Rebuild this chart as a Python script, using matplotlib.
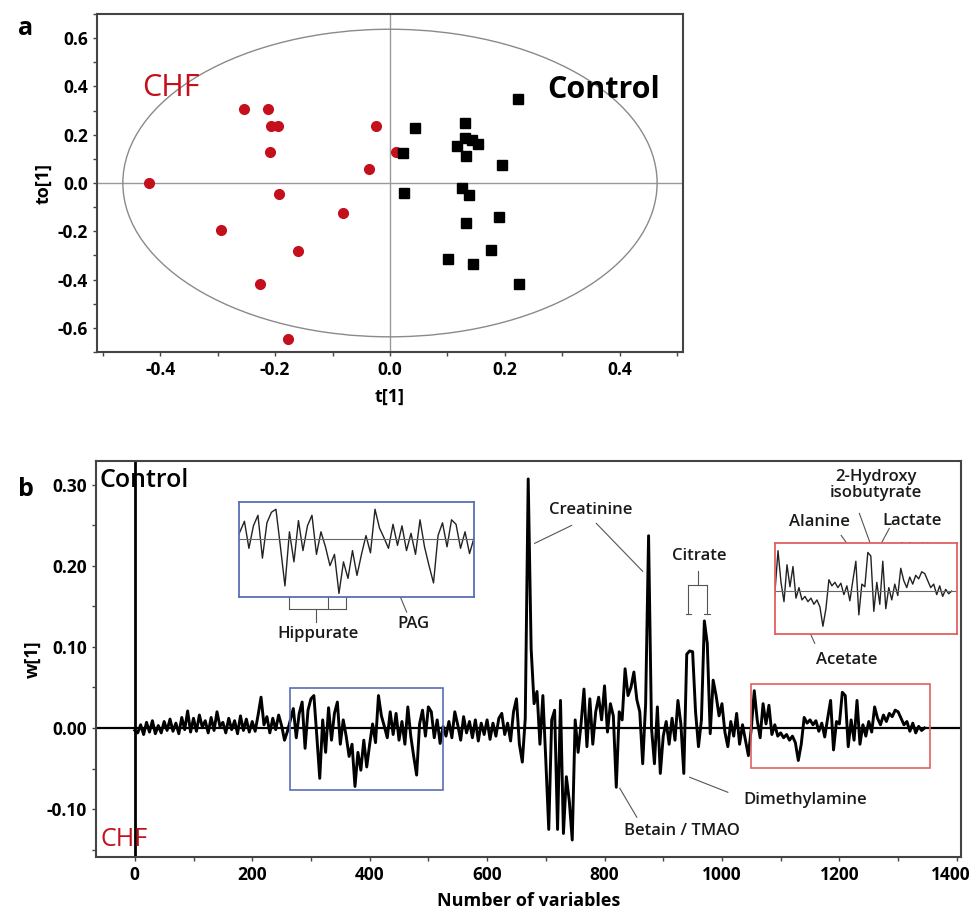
import numpy as np
import matplotlib
matplotlib.use("Agg")
import matplotlib.pyplot as plt
import matplotlib.transforms as mtransforms
from matplotlib.patches import Ellipse, Rectangle
from matplotlib.ticker import MultipleLocator, FormatStrFormatter

plt.rcParams['font.family'] = ['Open Sans', 'DejaVu Sans']

# -----------------------------------------------------------
# Panel a data: OPLS-DA scores
# -----------------------------------------------------------
chf_t = [-0.255, -0.213, -0.208, -0.195, -0.209, -0.024, 0.011, -0.037,
         -0.420, -0.194, -0.081, -0.294, -0.161, -0.226, -0.177]
chf_to = [0.305, 0.305, 0.235, 0.238, 0.129, 0.235, 0.129, 0.058,
          0.002, -0.047, -0.123, -0.195, -0.282, -0.418, -0.646]

ctrl_t = [0.043, 0.130, 0.130, 0.142, 0.153, 0.116, 0.132, 0.022, 0.195, 0.223,
          0.024, 0.125, 0.138, 0.132, 0.190, 0.176, 0.101, 0.145, 0.224]
ctrl_to = [0.230, 0.249, 0.188, 0.180, 0.163, 0.154, 0.111, 0.123, 0.076, 0.347,
           -0.041, -0.019, -0.051, -0.164, -0.141, -0.279, -0.315, -0.337, -0.420]

ellipse_half_t = 0.465
ellipse_half_to = 0.637

# -----------------------------------------------------------
# Panel b data: loading w[1], one value every 5 variables (0..1345)
# -----------------------------------------------------------
var_step = 5
w1 = [
    # 0-95
    -0.003, -0.006, 0.004, -0.008, 0.007, -0.005, 0.009, -0.007, 0.003, -0.006,
    0.008, -0.003, 0.011, -0.004, 0.006, -0.007, 0.013, -0.002, 0.021, -0.005,
    # 100-195
    0.012, -0.004, 0.016, 0.001, 0.009, -0.006, 0.013, -0.003, 0.020, 0.002,
    0.007, -0.006, 0.012, -0.002, 0.009, -0.007, 0.015, -0.003, 0.011, -0.005,
    # 200-295
    0.008, -0.004, 0.016, 0.038, 0.004, 0.014, -0.006, 0.012, -0.002, 0.016,
    0.003, -0.015, -0.004, 0.010, 0.024, -0.012, 0.018, 0.032, -0.025, 0.022,
    # 300-395
    0.036, 0.040, -0.010, -0.062, 0.010, -0.030, 0.025, -0.015, 0.018, 0.032,
    -0.020, 0.010, -0.010, -0.035, -0.020, -0.072, -0.030, -0.052, -0.015, -0.048,
    # 400-495
    -0.020, 0.005, -0.018, 0.040, 0.015, 0.002, -0.012, 0.020, -0.008, 0.018,
    -0.015, 0.008, -0.020, 0.026, -0.010, -0.035, -0.058, 0.005, 0.022, -0.010,
    # 500-595
    0.026, 0.020, -0.012, 0.010, -0.019, 0.002, -0.010, 0.008, -0.012, 0.020,
    0.004, -0.015, 0.014, -0.006, 0.008, -0.012, 0.010, -0.016, 0.006, -0.008,
    # 600-695
    0.010, -0.014, 0.006, -0.010, 0.012, 0.018, -0.008, 0.006, -0.016, 0.020,
    0.036, -0.020, -0.042, 0.012, 0.307, 0.098, 0.030, 0.045, -0.020, 0.040,
    # 700-795
    -0.040, -0.125, 0.010, 0.022, -0.125, 0.034, -0.130, -0.060, -0.090, -0.138,
    0.010, -0.030, 0.005, 0.048, -0.023, 0.036, -0.020, 0.020, 0.038, 0.010,
    # 800-895
    0.052, -0.005, 0.030, 0.015, -0.073, 0.020, 0.010, 0.073, 0.040, 0.050,
    0.069, 0.035, 0.020, -0.044, 0.030, 0.237, 0.000, -0.044, 0.026, -0.056,
    # 900-995
    -0.010, 0.008, -0.020, 0.012, -0.015, 0.034, 0.005, -0.056, 0.091, 0.095,
    0.094, 0.020, -0.023, 0.010, 0.132, 0.104, -0.007, 0.059, 0.040, 0.015,
    # 1000-1095
    0.030, -0.005, -0.023, 0.008, -0.010, 0.018, -0.020, 0.004, -0.015, -0.034,
    0.000, 0.046, 0.010, -0.012, 0.030, 0.005, 0.028, -0.008, 0.004, -0.010,
    # 1100-1195
    -0.006, -0.012, -0.008, -0.015, -0.010, -0.018, -0.040, -0.020, 0.013, 0.006,
    0.010, 0.004, 0.009, -0.004, 0.006, -0.011, 0.012, 0.034, -0.027, 0.008,
    # 1200-1295
    0.005, 0.044, 0.040, -0.023, 0.010, -0.015, 0.034, -0.020, 0.004, -0.010,
    0.008, -0.005, 0.026, 0.012, 0.004, 0.016, 0.008, 0.018, 0.014, 0.022,
    # 1300-1345
    0.020, 0.012, 0.004, 0.008, -0.004, 0.006, -0.006, 0.002, -0.003, 0.000,
]
variables = np.arange(len(w1)) * var_step

blue_box = (264, 525, -0.0767, 0.0497)    # x0, x1, y0, y1
red_box = (1050, 1354, -0.0488, 0.0547)

RED = '#c4101c'
BLUE_BOX = '#5a6db8'
RED_BOX = '#e06060'

fig = plt.figure(figsize=(9.74, 9.17), dpi=100)

# -----------------------------------------------------------
# Panel a
# -----------------------------------------------------------
ax1 = fig.add_axes([0.0996, 0.6161, 0.6016, 0.3686])
ax1.axhline(0, color='#9a9a9a', lw=1, zorder=1)
ax1.axvline(0, color='#9a9a9a', lw=1, zorder=1)
ax1.add_patch(Ellipse((0, 0), 2 * ellipse_half_t, 2 * ellipse_half_to,
                      fill=False, edgecolor='#8a8a8a', lw=1, zorder=1))
ax1.plot(chf_t, chf_to, 'o', color=RED, ms=7, mec=RED, zorder=3)
ax1.plot(ctrl_t, ctrl_to, 's', color='black', ms=6.5, zorder=3)
ax1.set_xlim(-0.51, 0.51)
ax1.set_ylim(-0.70, 0.70)
ax1.xaxis.set_major_locator(MultipleLocator(0.2))
ax1.xaxis.set_minor_locator(MultipleLocator(0.1))
ax1.yaxis.set_major_locator(MultipleLocator(0.2))
ax1.yaxis.set_minor_locator(MultipleLocator(0.1))
ax1.xaxis.set_major_formatter(FormatStrFormatter('%.1f'))
ax1.yaxis.set_major_formatter(FormatStrFormatter('%.1f'))
ax1.tick_params(which='both', direction='out', length=3, width=1, color='#444',
                labelsize=12.5)
for lab in ax1.get_xticklabels() + ax1.get_yticklabels():
    lab.set_fontweight('bold')
for sp in ax1.spines.values():
    sp.set_color('#444')
    sp.set_linewidth(1.5)
ax1.set_xlabel('t[1]', fontsize=13, fontweight='bold', labelpad=6)
ax1.set_ylabel('to[1]', fontsize=13, fontweight='bold', labelpad=4)
ax1.text(-0.381, 0.393, 'CHF', color=RED, fontsize=22, ha='center', va='center')
ax1.text(0.372, 0.385, 'Control', color='black', fontsize=22, ha='center',
         va='center', fontweight='bold')
fig.text(0.018, 0.969, 'a', fontsize=18, fontweight='bold', va='center')

# -----------------------------------------------------------
# Panel b
# -----------------------------------------------------------
ax2 = fig.add_axes([0.0986, 0.0654, 0.888, 0.4318])
ax2.plot(variables, w1, color='black', lw=2.1, zorder=3)
ax2.axhline(0, color='black', lw=1.6, zorder=2)
ax2.axvline(0, color='black', lw=2, zorder=2)
ax2.set_xlim(-66, 1407)
ax2.set_ylim(-0.159, 0.329)
ax2.xaxis.set_major_locator(MultipleLocator(200))
ax2.xaxis.set_minor_locator(MultipleLocator(100))
ax2.yaxis.set_major_locator(MultipleLocator(0.1))
ax2.yaxis.set_minor_locator(MultipleLocator(0.05))
ax2.yaxis.set_major_formatter(FormatStrFormatter('%.2f'))
ax2.tick_params(which='both', direction='out', length=3, width=1, color='#444',
                labelsize=12.5)
for lab in ax2.get_xticklabels() + ax2.get_yticklabels():
    lab.set_fontweight('bold')
# keep the last x label inside the figure
fig.canvas.draw()
xlabs = [l for l in ax2.get_xticklabels() if l.get_text() == '1400']
for l in xlabs:
    l.set_transform(l.get_transform() +
                    mtransforms.ScaledTranslation(-6 / 100, 0, fig.dpi_scale_trans))
for sp in ax2.spines.values():
    sp.set_color('#444')
    sp.set_linewidth(1.5)
ax2.set_xlabel('Number of variables', fontsize=13, fontweight='bold', labelpad=6)
ax2.set_ylabel('w[1]', fontsize=13, fontweight='bold', labelpad=4)
ax2.text(-60, 0.305, 'Control', fontsize=18, ha='left', va='center',
         fontweight='semibold', zorder=5)
ax2.text(-58, -0.138, 'CHF', fontsize=18, ha='left', va='center', color=RED,
         zorder=5)
fig.text(0.018, 0.466, 'b', fontsize=18, fontweight='bold', va='center')

# boxes marking the zoomed regions
for (x0, x1, y0, y1), col in ((blue_box, BLUE_BOX), (red_box, RED_BOX)):
    ax2.add_patch(Rectangle((x0, y0), x1 - x0, y1 - y0, fill=False,
                            edgecolor=col, lw=1.2, zorder=4))

# annotations
ann = dict(fontsize=12, fontweight='semibold', color='#1a1a1a', ha='center',
           va='center')
lc = dict(color='#555555', lw=0.8)

ax2.text(776, 0.269, 'Creatinine', **ann)
ax2.plot([681, 744], [0.2276, 0.2497], **lc)
ax2.plot([786, 865], [0.2522, 0.1931], **lc)

ax2.text(962, 0.2116, 'Citrate', **ann)
ax2.plot([960, 960], [0.194, 0.176], **lc)
ax2.plot([943, 975], [0.176, 0.176], **lc)
ax2.plot([943, 943], [0.176, 0.140], **lc)
ax2.plot([975, 975], [0.176, 0.140], **lc)
ax2.plot([938, 948], [0.140, 0.140], **lc)
ax2.plot([970, 980], [0.140, 0.140], **lc)

ax2.text(1262, 0.300, '2-Hydroxy\nisobutyrate', linespacing=1.0, **ann)
ax2.plot([1234, 1255], [0.2645, 0.2226], **lc)
ax2.text(1166, 0.2534, 'Alanine', **ann)
ax2.plot([1203, 1231], [0.2374, 0.209], **lc)
ax2.text(1323, 0.2547, 'Lactate', **ann)
ax2.plot([1285, 1263], [0.246, 0.2165], **lc)
ax2.text(1347, 0.220, 'Valine', zorder=6, **ann)
ax2.text(1212, 0.0834, 'Acetate', **ann)
ax2.plot([1135, 1158], [0.1413, 0.1044], **lc)

ax2.text(1141, -0.089, 'Dimethylamine', **ann)
ax2.plot([945, 1010], [-0.0607, -0.0792], **lc)
ax2.text(931, -0.127, 'Betain / TMAO', **ann)
ax2.plot([826, 855], [-0.0743, -0.110], **lc)

ax2.text(312, 0.1154, 'Hippurate', **ann)
for xv, yv in ((262.7, 0.1737), (329.1, 0.1976), (360.4, 0.1663)):
    ax2.plot([xv, xv], [yv, 0.1462], **lc)
    ax2.plot([xv - 5, xv + 5], [yv, yv], **lc)
ax2.plot([262.7, 360.4], [0.1462, 0.1462], **lc)
ax2.plot([308, 308], [0.1462, 0.1306], **lc)
ax2.text(474, 0.1278, 'PAG', **ann)
ax2.plot([428.5, 463], [0.2029, 0.1429], **lc)

# insets: zoomed views of the boxed regions
insets = ((blue_box, BLUE_BOX, [0.2454, 0.3490, 0.2413, 0.1036]),
          (red_box, RED_BOX, [0.7957, 0.3086, 0.1869, 0.0992]))
for (x0, x1, y0, y1), col, rect in insets:
    ins = fig.add_axes(rect)
    ins.plot(variables, w1, color='#222222', lw=1.0)
    ins.axhline(0, color='#666666', lw=0.8)
    ins.set_xlim(x0, x1)
    ins.set_ylim(y0, y1)
    ins.set_xticks([])
    ins.set_yticks([])
    for sp in ins.spines.values():
        sp.set_color(col)
        sp.set_linewidth(1.3)

fig.savefig('out.png', dpi=100)
